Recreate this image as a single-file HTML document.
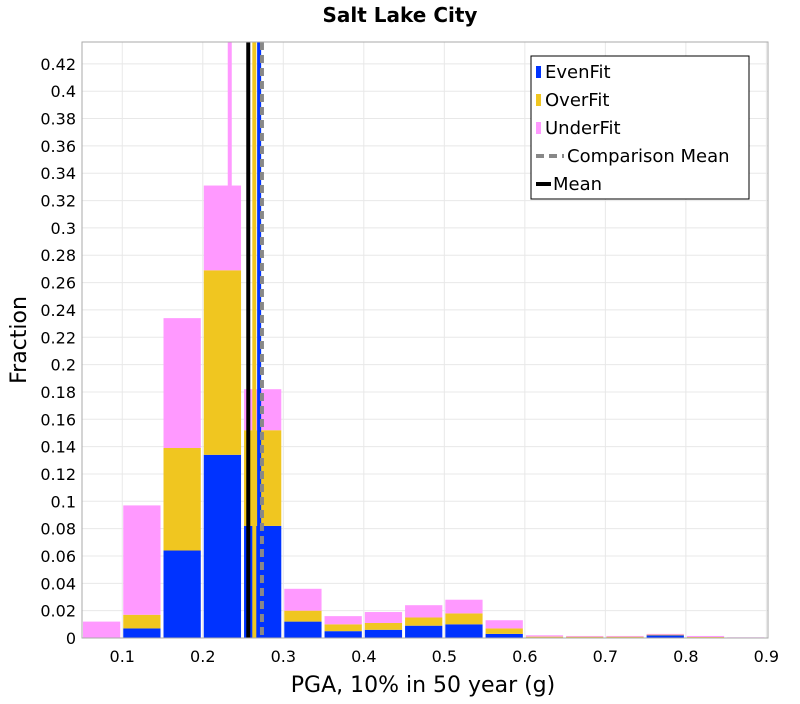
<!DOCTYPE html>
<html><head><meta charset="utf-8"><style>
body{margin:0;background:#fff;font-family:"DejaVu Sans","Liberation Sans",sans-serif}
</style></head><body>
<svg id="chart" width="800" height="700" xmlns="http://www.w3.org/2000/svg" font-family="DejaVu Sans, Liberation Sans, sans-serif">
<text x="400" y="22" text-anchor="middle" font-size="20" font-weight="bold">Salt Lake City</text>
<g id="grid"></g><g id="bars"></g><g id="lines"></g><g id="axes"></g>
<rect x="82" y="42" width="686" height="596" fill="none" stroke="#aaa"/>
<text x="423" y="692" text-anchor="middle" font-size="22">PGA, 10% in 50 year (g)</text>
<text transform="translate(26,340) rotate(-90)" text-anchor="middle" font-size="22">Fraction</text>
<g>
<rect x="531" y="56" width="218" height="143" fill="#fff" stroke="#000"/>
<rect x="536" y="66" width="5" height="12" fill="#0033ff"/>
<text x="545" y="78" font-size="18">EvenFit</text>
<rect x="536" y="94" width="5" height="12" fill="#f0c620"/>
<text x="545" y="106" font-size="18">OverFit</text>
<rect x="536" y="122" width="5" height="12" fill="#ff99ff"/>
<text x="545" y="134" font-size="18">UnderFit</text>
<line x1="536" y1="156" x2="564" y2="156" stroke="#888" stroke-width="4" stroke-dasharray="8,5"/>
<text x="567" y="162" font-size="18">Comparison Mean</text>
<line x1="536" y1="184" x2="551" y2="184" stroke="#000" stroke-width="4"/>
<text x="553" y="190" font-size="18">Mean</text>
</g>
</svg>
<script>
const binStarts=[0.05,0.1,0.15,0.2,0.25,0.3,0.35,0.4,0.45,0.5,0.55,0.6,0.65,0.7,0.75,0.8,0.85];
const evenFit=[0,0.007,0.064,0.134,0.082,0.012,0.005,0.006,0.009,0.010,0.003,0.0005,0.0005,0.0005,0.002,0.0003,0];
const overFit=[0,0.010,0.075,0.135,0.070,0.008,0.005,0.005,0.006,0.008,0.004,0.0005,0.0005,0.0005,0.0005,0.0004,0];
const underFit=[0.012,0.080,0.095,0.062,0.030,0.016,0.006,0.008,0.009,0.010,0.006,0.001,0.0005,0.0005,0.0005,0.0008,0.0005];
const xTicks=[0.1,0.2,0.3,0.4,0.5,0.6,0.7,0.8,0.9];
const yTicks=[0,0.02,0.04,0.06,0.08,0.1,0.12,0.14,0.16,0.18,0.2,0.22,0.24,0.26,0.28,0.3,0.32,0.34,0.36,0.38,0.4,0.42];
const meanLines=[{name:'underfit-mean',v:0.2335,y0:0.331,c:'#ff99ff',dash:null},{name:'mean',v:0.2565,y0:0,c:'#000',dash:null},{name:'overfit-mean',v:0.264,y0:0,c:'#f0c620',dash:null},{name:'evenfit-mean',v:0.27,y0:0,c:'#0033ff',dash:null},{name:'comparison-mean',v:0.2735,y0:0,c:'#888',dash:'8,5'}];
const binWidth=0.05;
const X0=82,X1=768,Y0=638,Y1=42,xmin=0.05,xmax=0.902,ymax=0.436;
const sx=v=>X0+(v-xmin)/(xmax-xmin)*(X1-X0);
const sy=v=>Y0-v/ymax*(Y0-Y1);
const NS='http://www.w3.org/2000/svg';
function mk(p,t,a){const e=document.createElementNS(NS,t);for(const k in a)e.setAttribute(k,a[k]);p.appendChild(e);return e;}
const grid=document.getElementById('grid'),bars=document.getElementById('bars'),lines=document.getElementById('lines'),axes=document.getElementById('axes');
yTicks.forEach(t=>{
 const g=mk(grid,'line',{x1:X0,x2:X1,y1:sy(t),y2:sy(t),stroke:'#e8e8e8'});
 
 
 const l=mk(axes,'text',{x:76,y:sy(t)+6,'text-anchor':'end','font-size':16});
 
 
 l.textContent=String(t);
});
xTicks.forEach(t=>{
 const g=mk(grid,'line',{x1:sx(t),x2:sx(t),y1:Y1,y2:Y0,stroke:'#e8e8e8'});
 
 
 const l=mk(axes,'text',{x:sx(t),y:662,'text-anchor':'middle','font-size':16});
 
 
 l.textContent=String(t);
});
binStarts.forEach((b,i)=>{
 const x=sx(b)+1,w=sx(b+binWidth)-sx(b)-3;
 let base=0;
 [[evenFit[i],'#0033ff','evenfit'],[overFit[i],'#f0c620','overfit'],[underFit[i],'#ff99ff','underfit']].forEach(([v,c,n])=>{
  if(v<=0)return;
  const r=mk(bars,'rect',{x:x,y:sy(base+v),width:w,height:Math.max(sy(base)-sy(base+v),0.8),fill:c});
  
  
  base+=v;
 });
});
meanLines.forEach(m=>{
 const a={x1:sx(m.v),x2:sx(m.v),y1:Y1,y2:sy(m.y0),stroke:m.c,'stroke-width':4};
 if(m.dash)a['stroke-dasharray']=m.dash;
 const l=mk(lines,'line',a);
 
 
});
</script>
</body></html>
